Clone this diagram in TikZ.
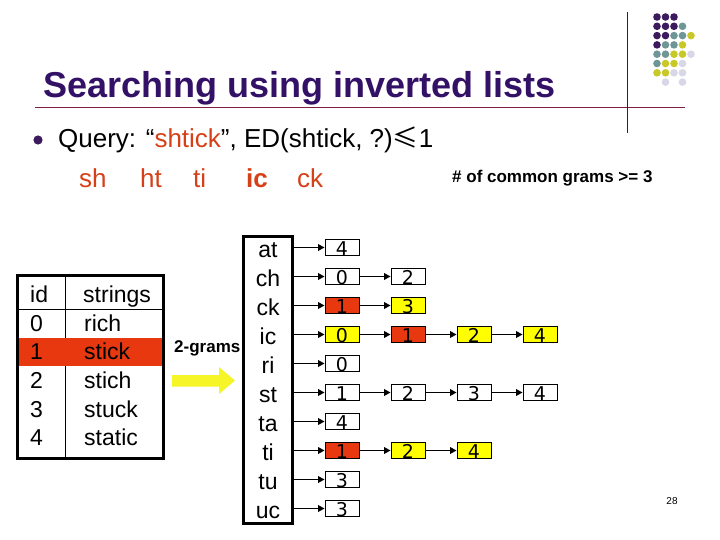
\documentclass[tikz,border=0pt]{standalone}
\usepackage{fontspec}
\setmainfont{Liberation Sans}
\newfontfamily\dejavu{DejaVu Sans}
\newfontfamily\cjk{Noto Sans CJK SC}
\usetikzlibrary{arrows.meta}
\definecolor{titlepurple}{RGB}{51,17,102}
\definecolor{rulered}{RGB}{128,32,64}
\definecolor{qred}{RGB}{214,64,24}
\definecolor{cellred}{RGB}{232,56,16}
\definecolor{cellyellow}{RGB}{255,255,0}
\definecolor{arrowyellow}{RGB}{245,245,40}
\definecolor{dotP}{RGB}{60,26,94}
\definecolor{dotT}{RGB}{110,150,150}
\definecolor{dotY}{RGB}{200,200,40}
\definecolor{dotL}{RGB}{215,215,232}
\begin{document}
\begin{tikzpicture}[x=1pt,y=-1pt,
  lbox/.style={draw, line width=0.8pt, minimum width=34pt, minimum height=16.5pt, inner sep=0pt,
     font=\dejavu\fontsize{19}{19}\selectfont, text height=15pt, text depth=0pt},
  arr/.style={line width=1.6pt, -{Triangle[length=6.5pt,width=6.5pt]}},
  tabtext/.style={anchor=base west, inner sep=0pt, font=\fontsize{23}{25}\selectfont},
  gramtext/.style={anchor=base, inner sep=0pt, font=\fontsize{23}{25}\selectfont},
  qgram/.style={anchor=base west, inner sep=0pt, text=qred, font=\fontsize{26}{30}\selectfont}]
\useasboundingbox (0,0) rectangle (720,540);
\fill[white] (0,0) rectangle (720,540);

% decoration dots
\foreach \c/\r/\col in {0/0/dotP,1/0/dotP,2/0/dotP,
  0/1/dotP,1/1/dotP,2/1/dotP,3/1/dotT,
  0/2/dotP,1/2/dotP,2/2/dotT,3/2/dotT,4/2/dotY,
  0/3/dotP,1/3/dotT,2/3/dotT,3/3/dotY,
  0/4/dotT,1/4/dotT,2/4/dotY,3/4/dotY,4/4/dotL,
  0/5/dotT,1/5/dotY,2/5/dotY,3/5/dotL,
  0/6/dotY,1/6/dotY,2/6/dotL,3/6/dotL,
  1/7/dotL,3/7/dotL}
  \fill[\col] (657+8.5*\c, 17+9.3*\r) circle (3.8pt);

% title and rules
\node[anchor=base west, inner sep=0pt, text=titlepurple, font=\fontsize{36}{40}\selectfont\bfseries] (title) at (43,98) {Searching using inverted lists};
\draw[rulered, line width=1pt] (35,108) -- (685,108);
\draw[black!85, line width=1pt] (627,12) -- (627,133);

% query
\fill[dotP] (38,140) circle (4.6pt);
\node[anchor=base west, inner sep=0pt, font=\fontsize{26}{30}\selectfont] (query) at (58,148) {Query: “\textcolor{qred}{shtick}”, ED(shtick, ?){\cjk ≤}1};
\node[qgram] (q1) at (79,188) {sh};
\node[qgram] (q2) at (140,188) {ht};
\node[qgram] (q3) at (193,188) {ti};
\node[qgram, font=\fontsize{26}{30}\selectfont\bfseries] (q4) at (246,188) {ic};
\node[qgram] (q5) at (297,188) {ck};
\node[anchor=base west, inner sep=0pt, font=\fontsize{17}{20}\selectfont\bfseries] (common) at (452,183) {\# of common grams >= 3};

% table
\fill[cellred] (17,338) rectangle (163,366);
\draw[line width=0.8pt] (65,275) -- (65,338) (65,366) -- (65,458);
\draw[line width=0.8pt] (17,309) -- (163,309);
\draw[line width=3pt] (17,275) rectangle (163,458);
\node[tabtext] (tid) at (30,302) {id};
\node[tabtext] (tstr) at (83,302) {strings};
\node[tabtext] (t0) at (30,331) {0};
\node[tabtext] (s0) at (84,331) {rich};
\node[tabtext] (t1) at (30,359) {1};
\node[tabtext] (s1) at (84,359) {stick};
\node[tabtext] (t2) at (30,388) {2};
\node[tabtext] (s2) at (84,388) {stich};
\node[tabtext] (t3) at (30,417) {3};
\node[tabtext] (s3) at (84,417) {stuck};
\node[tabtext] (t4) at (30,445) {4};
\node[tabtext] (s4) at (84,445) {static};

% big arrow
\fill[arrowyellow] (172,375) -- (219,375) -- (219,367) -- (235,380.5) -- (219,394) -- (219,386.5) -- (172,386.5) -- cycle;
\node[anchor=base west, inner sep=0pt, font=\fontsize{17}{20}\selectfont\bfseries] (twograms) at (174,352) {2-grams};

% gram box
\node[draw, line width=3pt, minimum width=49pt, minimum height=287pt, inner sep=0pt] (gbox) at (267.5,380) {};
\foreach \g [count=\i from 0] in {at,ch,ck,ic,ri,st,ta,ti,tu,uc}
  \node[gramtext] (g-\g) at (268, 257+29*\i) {\g};

% lists
\foreach \g/\i/\vals in {at/0/{4/white},
  ch/1/{0/white,2/white},
  ck/2/{1/cellred,3/cellyellow},
  ic/3/{0/cellyellow,1/cellred,2/cellyellow,4/cellyellow},
  ri/4/{0/white},
  st/5/{1/white,2/white,3/white,4/white},
  ta/6/{4/white},
  ti/7/{1/cellred,2/cellyellow,4/cellyellow},
  tu/8/{3/white},
  uc/9/{3/white}} {
  \foreach \v/\f [count=\k from 1] in \vals {
    \node[lbox, fill=\f] (b-\g-\k) at (276+66*\k, 247.5+29*\i) {\v};
  }
}
\foreach \g in {at,ch,ck,ic,ri,st,ta,ti,tu,uc}
  \draw[arr] (gbox.east |- b-\g-1.west) -- (b-\g-1.west);
\draw[arr] (b-ch-1) -- (b-ch-2);
\draw[arr] (b-ck-1) -- (b-ck-2);
\draw[arr] (b-ic-1) -- (b-ic-2);
\draw[arr] (b-ic-2) -- (b-ic-3);
\draw[arr] (b-ic-3) -- (b-ic-4);
\draw[arr] (b-st-1) -- (b-st-2);
\draw[arr] (b-st-2) -- (b-st-3);
\draw[arr] (b-st-3) -- (b-st-4);
\draw[arr] (b-ti-1) -- (b-ti-2);
\draw[arr] (b-ti-2) -- (b-ti-3);

\node[inner sep=0pt, font=\fontsize{10}{12}\selectfont] (page) at (672,501) {28};
\end{tikzpicture}
\end{document}
